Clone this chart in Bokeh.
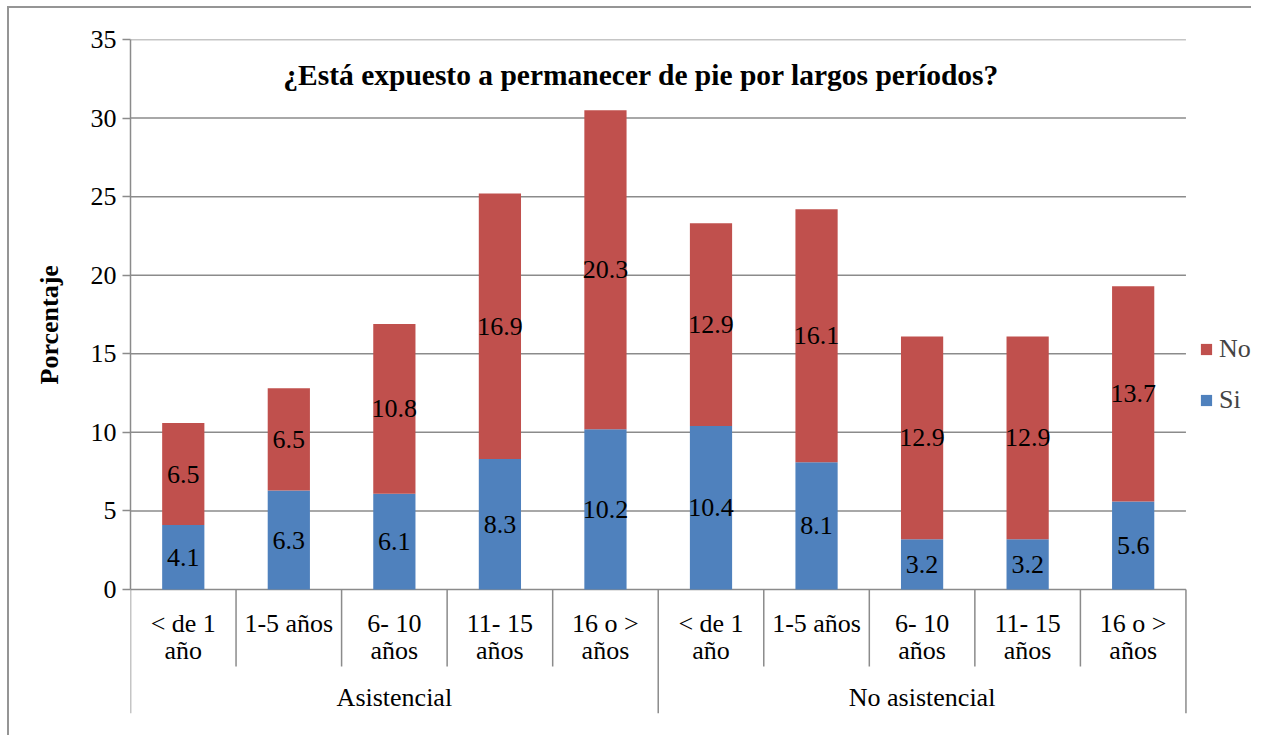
from bokeh.plotting import figure
from bokeh.models import ColumnDataSource, FixedTicker, Legend, LegendItem, Title
from bokeh.core.properties import value
from bokeh.embed import file_html
from bokeh.resources import INLINE

# ---- data ----
groups = ["Asistencial", "No asistencial"]
periods = ["< de 1\naño", "1-5 años", "6- 10\naños", "11- 15\naños", "16 o >\naños"]
si = [4.1, 6.3, 6.1, 8.3, 10.2, 10.4, 8.1, 3.2, 3.2, 5.6]
no = [6.5, 6.5, 10.8, 16.9, 20.3, 12.9, 16.1, 12.9, 12.9, 13.7]
y_ticks = [0, 5, 10, 15, 20, 25, 30, 35]
title_text = "¿Está expuesto a permanecer de pie por largos períodos?"
y_label = "Porcentaje"

FONT = "Liberation Serif"
QFONT = "'Liberation Serif', serif"
BLUE = "#4F81BD"
RED = "#C0504D"
GRAY = "#8b8b8b"

n = len(si)
n_per = len(periods)
cats = [periods[i % n_per] for i in range(n)]
xs = [i + 0.5 for i in range(n)]
source = ColumnDataSource(dict(x=xs, si=si, no=no, cat=cats))

p = figure(width=1244, height=729, output_backend="svg", toolbar_location=None,
           x_range=(0, 10.64), y_range=(-7.89, 35),
           min_border_left=121, min_border_top=31, min_border_bottom=24, min_border_right=0)
p.styles = {"border-top": "2px solid #959595", "border-left": "2px solid #959595",
            "margin-left": "7px", "margin-top": "6px"}
p.outline_line_color = None
p.xaxis.visible = False
p.xgrid.visible = False
p.ygrid.visible = False

# y axis
ax = p.yaxis[0]
ax.ticker = FixedTicker(ticks=y_ticks)
ax.bounds = (min(y_ticks), max(y_ticks))
ax.axis_line_color = GRAY
ax.axis_line_width = 1.5
ax.major_tick_line_color = GRAY
ax.major_tick_line_width = 1.5
ax.major_tick_out = 8
ax.major_tick_in = 0
ax.minor_tick_line_color = None
ax.major_label_text_font = FONT
ax.major_label_text_font_size = "26px"
ax.major_label_text_color = "black"
ax.major_label_standoff = 6

# y axis title, a little above the middle as in the original
p.add_layout(Title(text=y_label, align="left", offset=329, standoff=47,
                   text_font=FONT, text_font_size="26px", text_font_style="bold",
                   text_color="black"), "left")

# grid lines spanning the categories
p.segment(x0=[0] * len(y_ticks), x1=[n] * len(y_ticks), y0=y_ticks, y1=y_ticks,
          line_color=GRAY, line_width=1.5)

# category separators
inner = [i for i in range(1, n) if i % n_per != 0]
outer = [i for i in range(0, n + 1, n_per)]
p.segment(x0=inner, x1=inner, y0=[0] * len(inner), y1=[-4.9] * len(inner),
          line_color=GRAY, line_width=1.5)
p.segment(x0=outer, x1=outer, y0=[0] * len(outer), y1=[-7.89] * len(outer),
          line_color=GRAY, line_width=1.5)

# stacked bars
rs = p.vbar_stack(["si", "no"], x="x", width=0.4, source=source,
                  fill_color=[BLUE, RED], line_color=None)

# data labels at segment centres
si_mid = [v / 2 for v in si]
no_mid = [s + v / 2 for s, v in zip(si, no)]
p.text(x=xs, y=si_mid, text=[f"{v:.1f}" for v in si], text_align="center",
       text_baseline="middle", text_font=value(QFONT), text_font_size="26px",
       text_font_style="normal", text_color="black")
p.text(x=xs, y=no_mid, text=[f"{v:.1f}" for v in no], text_align="center",
       text_baseline="middle", text_font=value(QFONT), text_font_size="26px",
       text_font_style="normal", text_color="black")

# category labels
p.text(x=xs, y=[-1.21] * n, text=cats, text_align="center", text_baseline="top",
       text_font=value(QFONT), text_font_size="26px", text_font_style="normal",
       text_color="black", text_line_height=0.955)
gx = [g * n_per + n_per / 2 for g in range(len(groups))]
p.text(x=gx, y=[-6.87] * len(groups), text=groups, text_align="center", text_baseline="middle",
       text_font=value(QFONT), text_font_size="26px", text_font_style="normal", text_color="black")

# chart title
p.text(x=[4.84], y=[32.77], text=[title_text], text_align="center", text_baseline="middle",
       text_font=value(QFONT), text_font_size="29.5px", text_font_style="bold", text_color="black")

legend = Legend(items=[LegendItem(label="No", renderers=[rs[1]]),
                       LegendItem(label="Si", renderers=[rs[0]])],
                location=(1069, 298), margin=0, padding=0, spacing=21,
                glyph_width=14, glyph_height=14, label_height=30, label_standoff=6,
                label_text_font=QFONT, label_text_font_size="26px",
                border_line_color=None, background_fill_alpha=0)
p.add_layout(legend)

open("out.html", "w").write(file_html(p, INLINE))
